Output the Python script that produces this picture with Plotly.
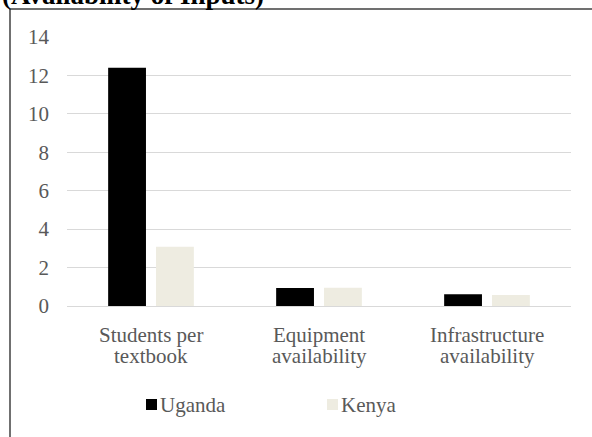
import plotly.graph_objects as go

categories = ["Students per<br>textbook", "Equipment<br>availability", "Infrastructure<br>availability"]
series_names = ["Uganda", "Kenya"]
uganda = [12.4, 0.94, 0.61]
kenya = [3.08, 0.95, 0.57]
y_ticks = [0, 2, 4, 6, 8, 10, 12, 14]
title_text = "(Availability of Inputs)"

colors = ["#000000", "#EEECE1"]
FONT = "Liberation Serif"
GRAY = "#595959"
FS = 21

W, H = 592, 437
L, R, T, B = 67, 21, 37, 131
ph = H - T - B
pw = W - L - R

def px_x(p):
    return (p - L) / pw

def px_y(p):
    return (H - B - p) / ph

fig = go.Figure()
for name, vals, c in zip(series_names, [uganda, kenya], colors):
    fig.add_trace(go.Bar(x=categories, y=vals, name=name,
                         marker=dict(color=c, line=dict(width=0)), showlegend=False))

annotations = [
    dict(text="<b>" + title_text + "</b>", xref="paper", yref="paper", x=px_x(1), y=px_y(11),
         xanchor="left", yanchor="bottom", showarrow=False, borderpad=0,
         font=dict(family=FONT, size=27, color="#000000")),
]
# category labels (two lines each, tighter line spacing as in the reference)
for cat in categories:
    for i, line in enumerate(cat.split("<br>")):
        annotations.append(dict(text=line, x=cat, xref="x", yref="paper", y=px_y(335 + 21 * i),
                                xanchor="center", yanchor="middle", showarrow=False, borderpad=0,
                                font=dict(family=FONT, size=FS, color=GRAY)))

# legend: small squares + names
shapes = [
    dict(type="line", xref="paper", yref="paper", x0=px_x(10), x1=px_x(10), y0=px_y(9), y1=px_y(460),
         line=dict(color="#404040", width=1.5)),
    dict(type="line", xref="paper", yref="paper", x0=px_x(10), x1=px_x(620), y0=px_y(9), y1=px_y(9),
         line=dict(color="#404040", width=1.5)),
]
leg_x = [146, 327]
for name, c, lx in zip(series_names, colors, leg_x):
    shapes.append(dict(type="rect", xref="paper", yref="paper", x0=px_x(lx), x1=px_x(lx + 11),
                       y0=px_y(410), y1=px_y(399), fillcolor=c, line=dict(width=0)))
    annotations.append(dict(text=name, xref="paper", yref="paper", x=px_x(lx + 13), y=px_y(405),
                            xanchor="left", yanchor="middle", showarrow=False, borderpad=0,
                            font=dict(family=FONT, size=FS, color=GRAY)))

fig.update_layout(
    width=W, height=H,
    margin=dict(l=L, r=R, t=T, b=B),
    paper_bgcolor="white", plot_bgcolor="white",
    barmode="group", bargap=0.43, bargroupgap=0.21,
    font=dict(family=FONT, size=FS, color=GRAY),
    showlegend=False,
    yaxis=dict(range=[0, 14], tickvals=y_ticks, showgrid=True, gridcolor="#D9D9D9", gridwidth=1,
               zeroline=False, showline=False, ticks="", ticklabelstandoff=17,
               tickfont=dict(family=FONT, size=FS, color=GRAY)),
    xaxis=dict(showgrid=False, showline=True, linecolor="#D9D9D9", linewidth=1, ticks="",
               showticklabels=False),
    shapes=shapes,
    annotations=annotations,
)

fig.write_html("out.html", config={"displayModeBar": False},
               post_script="document.body.style.margin='0px';")
